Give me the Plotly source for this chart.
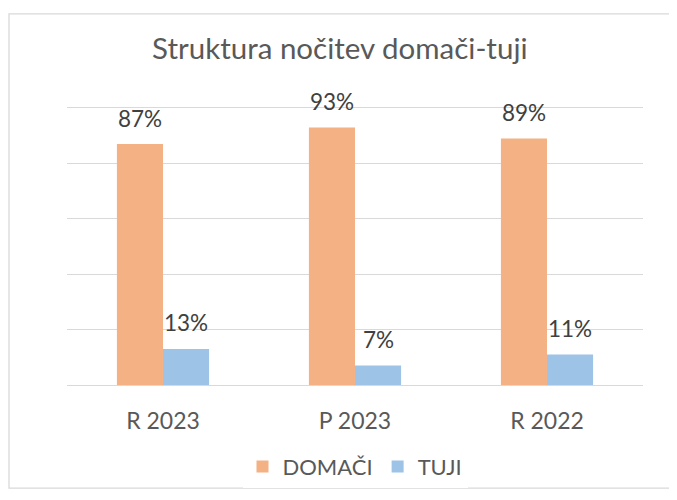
import plotly.graph_objects as go

categories = ["R 2023", "P 2023", "R 2022"]
domaci = [87, 93, 89]
tuji = [13, 7, 11]
series_names = ["DOMAČI", "TUJI"]

FONT = "Lato"
TEXT = "#595959"
GRID = "#D9D9D9"

fig = go.Figure()
fig.add_trace(go.Bar(x=categories, y=domaci, name=series_names[0],
                     marker=dict(color="#F4B183", line=dict(width=0))))
fig.add_trace(go.Bar(x=categories, y=tuji, name=series_names[1],
                     marker=dict(color="#9DC3E6", line=dict(width=0))))

# data labels above each bar
annotations = []
for vals, shift in [(domaci, -23), (tuji, 23)]:
    for c, v in zip(categories, vals):
        annotations.append(dict(
            x=c, y=v, xref="x", yref="y", text=f"{v}%", showarrow=False,
            xshift=shift, yshift=26, yanchor="middle",
            font=dict(family=FONT, size=22.5, color="#404040")))

# page has an 8px body margin, so the figure is a bit smaller than the window
fig.update_layout(
    width=669, height=492,
    margin=dict(l=59, r=34, t=100, b=104),
    paper_bgcolor="white", plot_bgcolor="white",
    barmode="group", bargap=0.52, bargroupgap=0,
    title=dict(text="Struktura nočitev domači-tuji", x=0.496, xanchor="center",
               y=0.918, yanchor="middle", yref="container",
               font=dict(family=FONT, size=29.5, color=TEXT)),
    legend=dict(orientation="h", x=0.5, xanchor="center", y=-0.295, yanchor="middle",
                font=dict(family=FONT, size=22, color=TEXT), itemclick=False),
    annotations=annotations,
    shapes=[dict(type="rect", xref="paper", yref="paper",
                 x0=-0.1007, x1=1.064, y0=-0.372, y1=1.340,
                 line=dict(color=GRID, width=1.3), layer="below")],
)
# mirrored x line gives the 100% gridline at the top edge
fig.update_xaxes(showline=True, mirror=True, linecolor=GRID, linewidth=1.3, ticks="",
                 tickfont=dict(family=FONT, size=23, color=TEXT),
                 ticklabelstandoff=15)
fig.update_yaxes(range=[0, 100], tickvals=[0, 20, 40, 60, 80, 100],
                 showgrid=True, gridcolor=GRID,
                 gridwidth=1.3, showticklabels=False, zeroline=False)

fig.write_html("out.html")
